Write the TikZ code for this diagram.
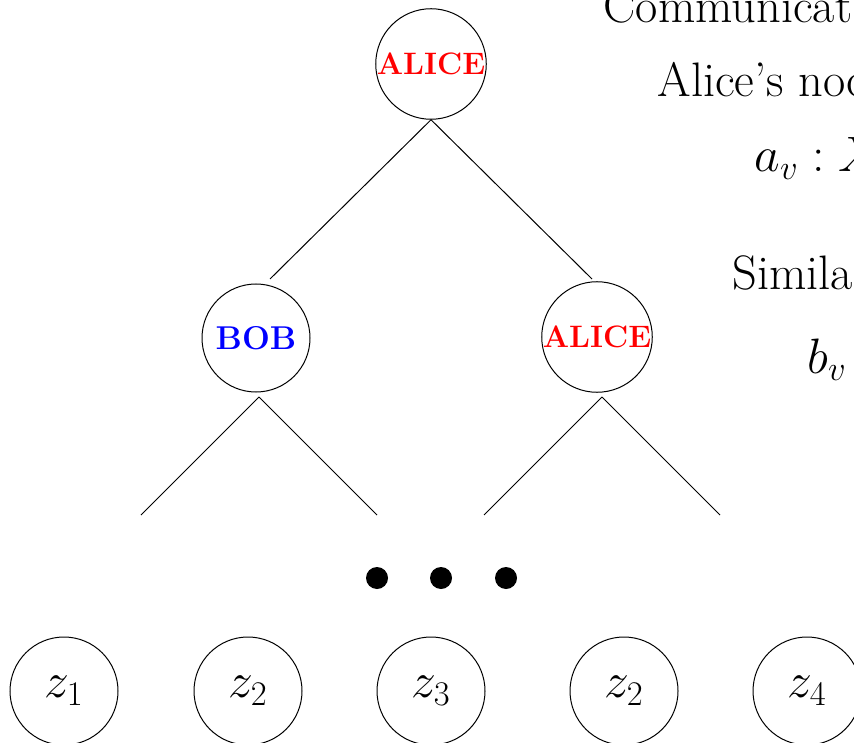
\documentclass[tikz,border=0pt]{standalone}

\tikzset{
  player/.style={draw, circle, minimum size=54pt, inner sep=0pt, line width=0.5pt,
    font=\fontsize{15.5}{18}\selectfont\bfseries},
  leaf/.style={draw, circle, minimum size=54pt, inner sep=0pt, line width=0.5pt,
    font=\fontsize{24.2}{29}\selectfont},
  gapdot/.style={fill, circle, minimum size=11pt, inner sep=0pt},
  slidetext/.style={anchor=base west, inner sep=0pt, font=\fontsize{24.2}{29}\selectfont},
}

\begin{document}
\begin{tikzpicture}[x=0.5pt, y=0.5pt, line width=0.5pt]
  \useasboundingbox (0,0) rectangle (854,-742);
  \clip (0,0) rectangle (854,-742);

  % Protocol tree
  \node[player, text=red] (root) at (431,-64) {ALICE};
  \node[player, text=blue, font=\fontsize{16.5}{20}\selectfont\bfseries] (bob) at (256,-338) {BOB};
  \node[player, text=red] (alice) at (597,-337) {ALICE};

  \coordinate (bobin) at (270,-279);
  \coordinate (alicein) at (592,-279);
  \coordinate (bobfork) at (259,-397);
  \coordinate (alicefork) at (602,-397);
  \coordinate (s1) at (141,-515);
  \coordinate (s2) at (377,-515);
  \coordinate (s3) at (484,-515);
  \coordinate (s4) at (720,-515);

  \draw (root.south) -- (bobin);
  \draw (root.south) -- (alicein);
  \draw (bobfork) -- (s1);
  \draw (bobfork) -- (s2);
  \draw (alicefork) -- (s3);
  \draw (alicefork) -- (s4);

  % Dots
  \node[gapdot] (g1) at (377,-578) {};
  \node[gapdot] (g2) at (441,-578) {};
  \node[gapdot] (g3) at (506,-578) {};

  % Leaves
  \node[leaf] (z1) at (64,-691) {$z_1$};
  \node[leaf] (z2) at (248,-691) {$z_2$};
  \node[leaf] (z3) at (431,-691) {$z_3$};
  \node[leaf] (z2b) at (624,-691) {$z_2$};
  \node[leaf] (z4) at (807,-691) {$z_4$};

  % Text on the right
  \node[slidetext] (t1) at (603,-23) {Communicat};
  \node[slidetext] (t2) at (657,-97) {Alice's noc};
  \node[slidetext] (t3) at (754,-172) {$a_v : X$};
  \node[slidetext] (t4) at (732,-290) {Simila};
  \node[slidetext] (t5) at (807,-373) {$b_v$};
\end{tikzpicture}
\end{document}
